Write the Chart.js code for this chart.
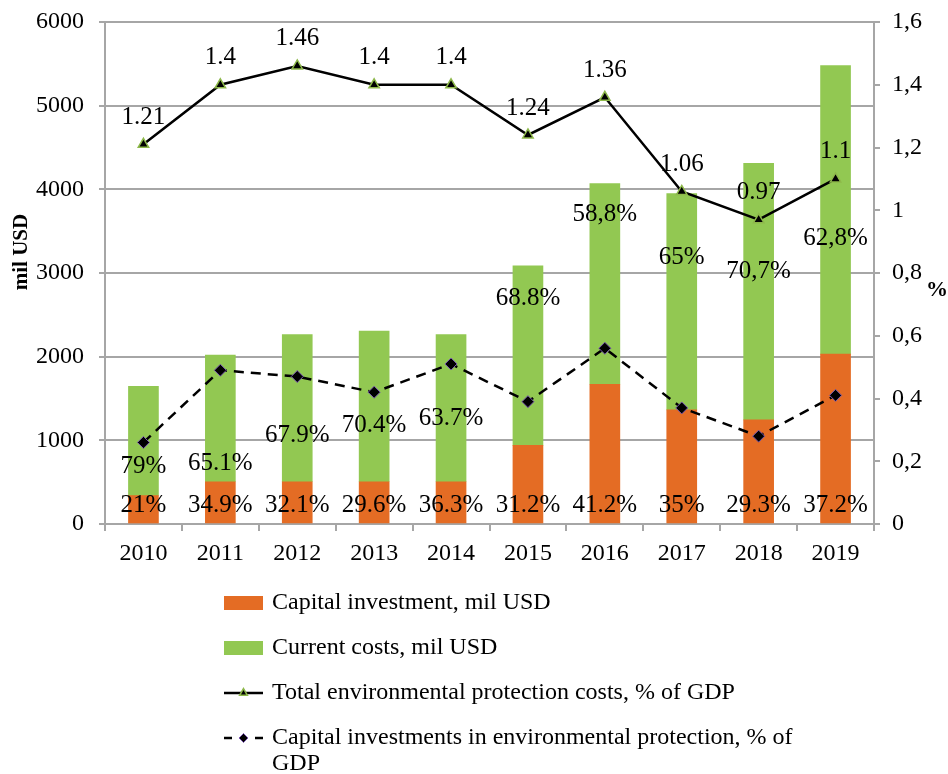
<!DOCTYPE html>
<html>
<head>
<meta charset="utf-8">
<script src="https://cdn.jsdelivr.net/npm/chart.js@4/dist/chart.umd.min.js"></script>
<style>
  html, body { margin: 0; padding: 0; background: #fff; }
</style>
</head>
<body>
<canvas id="chart" width="948" height="774"></canvas>
<script>
const years = ["2010", "2011", "2012", "2013", "2014", "2015", "2016", "2017", "2018", "2019"];
const capitalInvestment = [340, 505, 505, 505, 505, 940, 1670, 1365, 1245, 2030];
const currentCosts = [1305, 1515, 1758, 1802, 1758, 2147, 2400, 2585, 3065, 3450];
const totalCostsPct = [1.21, 1.4, 1.46, 1.4, 1.4, 1.24, 1.36, 1.06, 0.97, 1.1];
const capitalInvPct = [0.26, 0.49, 0.47, 0.42, 0.51, 0.39, 0.56, 0.37, 0.28, 0.41];
const capitalShare = ["21%", "34.9%", "32.1%", "29.6%", "36.3%", "31.2%", "41.2%", "35%", "29.3%", "37.2%"];
const currentShare = ["79%", "65.1%", "67.9%", "70.4%", "63.7%", "68.8%", "58,8%", "65%", "70,7%", "62,8%"];

const SERIF = "'Times New Roman', 'Liberation Serif', serif";
const ORANGE = "#E46C24";
const GREEN = "#92C852";
const GRID = "#a6a6a6";

// where the (hand-placed) share labels of the green segments sit, in mil USD
const currentLabelAt = [693, 729, 1054, 1175, 1259, 2693, 3705, 3187, 3018, 3416];

const labelsPlugin = {
  id: "labels",
  afterDatasetsDraw(chart) {
    const ctx = chart.ctx;
    const y = chart.scales.y;
    ctx.save();
    ctx.font = `25px ${SERIF}`;
    ctx.fillStyle = "#000";
    ctx.textAlign = "center";
    ctx.textBaseline = "middle";

    const total = chart.getDatasetMeta(0);
    total.data.forEach((pt, i) => {
      ctx.fillText(String(totalCostsPct[i]), pt.x, pt.y - 27);
    });

    const cap = chart.getDatasetMeta(2);
    cap.data.forEach((bar, i) => {
      ctx.fillText(capitalShare[i], bar.x, bar.base - 18);
    });

    const cur = chart.getDatasetMeta(3);
    cur.data.forEach((bar, i) => {
      ctx.fillText(currentShare[i], bar.x, y.getPixelForValue(currentLabelAt[i]));
    });
    ctx.restore();
  }
};

// axis titles: left one rotated, right "%" upright as in the original
const titlesPlugin = {
  id: "titles",
  afterDraw(chart) {
    const ctx = chart.ctx;
    ctx.save();
    ctx.fillStyle = "#000";
    ctx.font = `bold 21px ${SERIF}`;
    ctx.textAlign = "center";
    ctx.textBaseline = "middle";
    ctx.translate(22, 252);
    ctx.rotate(-Math.PI / 2);
    ctx.fillText("mil USD", 0, 0);
    ctx.restore();
    ctx.save();
    ctx.fillStyle = "#000";
    ctx.font = `bold 22px ${SERIF}`;
    ctx.textAlign = "center";
    ctx.textBaseline = "middle";
    ctx.fillText("%", 937, 290);
    ctx.restore();
  }
};

function wrapText(ctx, text, maxW) {
  const words = text.split(" ");
  const lines = [];
  let line = "";
  words.forEach(w => {
    const test = line ? line + " " + w : w;
    if (ctx.measureText(test).width > maxW && line) {
      lines.push(line);
      line = w;
    } else line = test;
  });
  lines.push(line);
  return lines;
}

const legendPlugin = {
  id: "bottomLegend",
  afterDraw(chart) {
    const ctx = chart.ctx;
    const ds = chart.data.datasets;
    const x0 = 224, x1 = 263, tx = 272;
    const rows = [
      { i: 2, y: 603 },
      { i: 3, y: 648 },
      { i: 0, y: 693 },
      { i: 1, y: 738 }
    ];
    ctx.save();
    ctx.font = `24px ${SERIF}`;
    ctx.textBaseline = "middle";
    ctx.textAlign = "left";
    rows.forEach(r => {
      const d = ds[r.i];
      if (d.type === "bar") {
        ctx.fillStyle = d.backgroundColor;
        ctx.fillRect(x0, r.y - 7, x1 - x0, 14);
      } else {
        ctx.strokeStyle = d.borderColor;
        ctx.lineWidth = d.borderWidth;
        ctx.setLineDash([]);
        ctx.beginPath();
        if (d.borderDash) {
          ctx.moveTo(x0, r.y); ctx.lineTo(x0 + 8, r.y);
          ctx.moveTo(x1 - 8, r.y); ctx.lineTo(x1, r.y);
        } else {
          ctx.moveTo(x0, r.y); ctx.lineTo(x1, r.y);
        }
        ctx.stroke();
        ctx.fillStyle = d.pointBackgroundColor;
        ctx.strokeStyle = d.pointBorderColor;
        ctx.lineWidth = d.pointBorderWidth;
        Chart.helpers.drawPoint(ctx, {
          pointStyle: d.pointStyle,
          radius: d.pointRadius - 1.5,
          borderWidth: d.pointBorderWidth
        }, (x0 + x1) / 2, r.y);
      }
      ctx.fillStyle = "#000";
      const lines = wrapText(ctx, d.label, 550);
      lines.forEach((ln, k) => ctx.fillText(ln, tx, r.y + k * 26));
    });
    ctx.restore();
  }
};

const noPad = (s) => { s.paddingTop = 0; s.paddingBottom = 0; };

new Chart(document.getElementById("chart"), {
  data: {
    labels: years,
    datasets: [
      {
        type: "line",
        label: "Total environmental protection costs, % of GDP",
        data: totalCostsPct,
        yAxisID: "y1",
        order: 0,
        borderColor: "#000",
        borderWidth: 2.5,
        pointStyle: "triangle",
        pointRadius: 6,
        pointBackgroundColor: "#000",
        pointBorderColor: "#8DB84A",
        pointBorderWidth: 1.5,
        tension: 0
      },
      {
        type: "line",
        label: "Capital investments in environmental protection, % of GDP",
        data: capitalInvPct,
        yAxisID: "y1",
        order: 0,
        borderColor: "#000",
        borderWidth: 2.5,
        borderDash: [10, 7],
        pointStyle: "rectRot",
        pointRadius: 6,
        pointBackgroundColor: "#000",
        pointBorderColor: "#7b5ab0",
        pointBorderWidth: 1,
        tension: 0
      },
      {
        type: "bar",
        label: "Capital investment, mil USD",
        data: capitalInvestment,
        yAxisID: "y",
        order: 1,
        stack: "s",
        backgroundColor: ORANGE,
        barThickness: 30
      },
      {
        type: "bar",
        label: "Current costs, mil USD",
        data: currentCosts,
        yAxisID: "y",
        order: 1,
        stack: "s",
        backgroundColor: GREEN,
        barThickness: 30
      }
    ]
  },
  options: {
    responsive: false,
    animation: false,
    layout: { padding: { top: 22, left: 0, right: 0, bottom: 0 } },
    plugins: {
      legend: { display: false },
      tooltip: { enabled: false }
    },
    scales: {
      x: {
        stacked: true,
        offset: true,
        afterFit: (s) => { s.height = 250; s.paddingLeft = 0; s.paddingRight = 0; },
        grid: {
          offset: true,
          drawOnChartArea: false,
          color: GRID,
          tickLength: 7,
          lineWidth: 2
        },
        border: { color: GRID, width: 2 },
        ticks: {
          color: "#000",
          font: { family: SERIF, size: 24 },
          padding: 8,
          maxRotation: 0
        }
      },
      y: {
        position: "left",
        stacked: true,
        min: 0,
        max: 6000,
        afterFit: (s) => { s.width = 105; noPad(s); },
        ticks: {
          stepSize: 1000,
          color: "#000",
          font: { family: SERIF, size: 24 },
          padding: 15,
          callback: (v) => String(v)
        },
        grid: { color: GRID, lineWidth: 2, tickLength: 6 },
        border: { color: GRID, width: 2 }
      },
      y1: {
        position: "right",
        min: 0,
        max: 1.6,
        afterFit: (s) => { s.width = 74; noPad(s); },
        ticks: {
          stepSize: 0.2,
          color: "#000",
          font: { family: SERIF, size: 24 },
          padding: 12,
          callback: (v) => String(Math.round(v * 10) / 10).replace(".", ",")
        },
        grid: { drawOnChartArea: false, color: GRID, lineWidth: 2, tickLength: 6 },
        border: { color: GRID, width: 2 }
      }
    }
  },
  plugins: [labelsPlugin, titlesPlugin, legendPlugin]
});
</script>
</body>
</html>
